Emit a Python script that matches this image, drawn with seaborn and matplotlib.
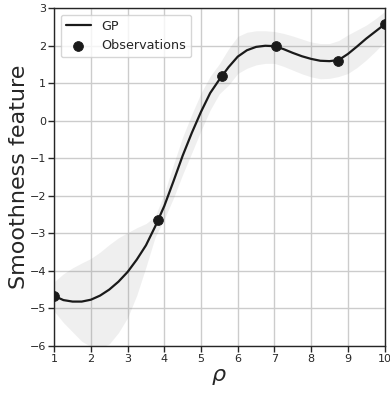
import numpy as np
import pandas as pd
import seaborn as sns
import matplotlib
matplotlib.use("Agg")
import matplotlib.pyplot as plt

# observations
obs_rho = [1.0, 3.83, 5.58, 7.03, 8.72, 10.0]
obs_val = [-4.67, -2.65, 1.19, 1.99, 1.60, 2.57]

# GP mean and band, read at a 0.25 step
gp_rho = [1.00, 1.25, 1.50, 1.75, 2.00, 2.25, 2.50, 2.75, 3.00, 3.25, 3.50, 3.75,
          4.00, 4.25, 4.50, 4.75, 5.00, 5.25, 5.50, 5.75, 6.00, 6.25, 6.50, 6.75,
          7.00, 7.25, 7.50, 7.75, 8.00, 8.25, 8.50, 8.75, 9.00, 9.25, 9.50, 9.75, 10.00]
gp_mean = [-4.67, -4.78, -4.82, -4.82, -4.77, -4.66, -4.50, -4.29, -4.03, -3.70, -3.32, -2.82,
           -2.27, -1.61, -0.93, -0.32, 0.24, 0.74, 1.10, 1.43, 1.71, 1.88, 1.97, 2.00,
           1.99, 1.91, 1.81, 1.72, 1.65, 1.60, 1.59, 1.62, 1.78, 1.98, 2.19, 2.38, 2.57]
gp_upper = [-4.29, -4.08, -3.92, -3.79, -3.67, -3.50, -3.30, -3.12, -2.98, -2.85, -2.74, -2.55,
            -1.93, -1.16, -0.43, 0.18, 0.74, 1.19, 1.52, 1.92, 2.25, 2.36, 2.40, 2.40,
            2.38, 2.33, 2.26, 2.18, 2.10, 2.06, 2.06, 2.14, 2.29, 2.42, 2.55, 2.72, 2.91]
gp_lower = [-5.08, -5.38, -5.63, -5.88, -6.02, -6.05, -5.95, -5.65, -5.25, -4.65, -3.90, -3.10,
            -2.62, -2.06, -1.43, -0.85, -0.26, 0.29, 0.72, 0.95, 1.26, 1.40, 1.49, 1.53,
            1.53, 1.45, 1.35, 1.25, 1.17, 1.12, 1.13, 1.18, 1.26, 1.42, 1.62, 1.85, 2.10]

gp = pd.DataFrame({"rho": gp_rho, "mean": gp_mean, "upper": gp_upper, "lower": gp_lower})
obs = pd.DataFrame({"rho": obs_rho, "value": obs_val})

sns.set_style("whitegrid")
plt.rcParams["font.family"] = ["DejaVu Sans"]

fig = plt.figure(figsize=(3.9, 3.93), dpi=100)
ax = fig.add_axes([0.139, 0.12, 0.847, 0.859])

ax.fill_between(gp["rho"], gp["lower"], gp["upper"], color="0.5", alpha=0.12,
                linewidth=0, zorder=2)
sns.lineplot(data=gp, x="rho", y="mean", color="#1a1a1a", linewidth=1.6,
             label="GP", ax=ax, zorder=3)
sns.scatterplot(data=obs, x="rho", y="value", color="#1a1a1a", s=50,
                edgecolor="#1a1a1a", label="Observations", ax=ax, zorder=4)

ax.set_xlim(1, 10)
ax.set_ylim(-6, 3)
ax.set_xticks(range(1, 11))
ax.set_yticks(range(-6, 4))
ax.grid(color="0.8", linewidth=1)
for sp in ax.spines.values():
    sp.set_color("0.15")
    sp.set_linewidth(1.0)
ax.tick_params(axis="both", direction="out", length=4, width=1, color="0.15",
               labelsize=8, labelcolor="0.15", left=True, bottom=True, pad=2)

ax.set_xlabel(r"$\rho$", fontsize=16, labelpad=2)
ax.set_ylabel("Smoothness feature", fontsize=16, labelpad=0)

ax.legend(loc="upper left", fontsize=9.2, frameon=True, borderaxespad=0.5,
          handlelength=2.0)

fig.savefig("out.png", dpi=100)
